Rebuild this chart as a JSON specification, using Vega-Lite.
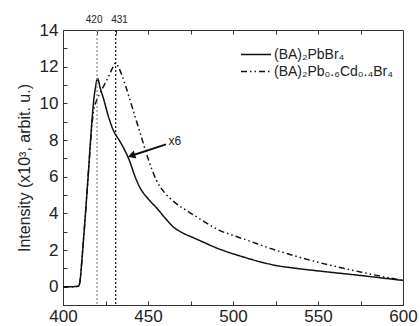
{
  "$schema": "https://vega.github.io/schema/vega-lite/v6.json",
  "width": 340,
  "height": 275,
  "autosize": {"type": "none"},
  "padding": {"left": 63, "top": 30, "right": 17, "bottom": 21},
  "background": "white",
  "config": {
    "view": {"stroke": "#333", "strokeWidth": 1},
    "font": "Liberation Sans",
    "axis": {"domainColor": "#333", "tickColor": "#333", "labelColor": "#222", "titleColor": "#222", "grid": false, "labelFont": "Liberation Sans", "titleFont": "Liberation Sans", "titleFontWeight": "normal"}
  },
  "datasets": {
    "spectra": [
      {"series": "(BA)₂PbBr₄", "wl": 400, "I": 0.0},
      {"series": "(BA)₂PbBr₄", "wl": 405, "I": 0.0},
      {"series": "(BA)₂PbBr₄", "wl": 409, "I": 0.02},
      {"series": "(BA)₂PbBr₄", "wl": 410, "I": 0.3},
      {"series": "(BA)₂PbBr₄", "wl": 411, "I": 1.3},
      {"series": "(BA)₂PbBr₄", "wl": 412, "I": 2.5},
      {"series": "(BA)₂PbBr₄", "wl": 413, "I": 3.7},
      {"series": "(BA)₂PbBr₄", "wl": 414, "I": 5.0},
      {"series": "(BA)₂PbBr₄", "wl": 415, "I": 6.3},
      {"series": "(BA)₂PbBr₄", "wl": 416, "I": 7.7},
      {"series": "(BA)₂PbBr₄", "wl": 417, "I": 9.0},
      {"series": "(BA)₂PbBr₄", "wl": 418, "I": 10.1},
      {"series": "(BA)₂PbBr₄", "wl": 419, "I": 10.8},
      {"series": "(BA)₂PbBr₄", "wl": 420.3, "I": 11.35},
      {"series": "(BA)₂PbBr₄", "wl": 422, "I": 10.8},
      {"series": "(BA)₂PbBr₄", "wl": 424, "I": 10.2},
      {"series": "(BA)₂PbBr₄", "wl": 427, "I": 9.2},
      {"series": "(BA)₂PbBr₄", "wl": 430, "I": 8.45},
      {"series": "(BA)₂PbBr₄", "wl": 433, "I": 8.0},
      {"series": "(BA)₂PbBr₄", "wl": 436, "I": 7.5},
      {"series": "(BA)₂PbBr₄", "wl": 439, "I": 6.9},
      {"series": "(BA)₂PbBr₄", "wl": 442, "I": 6.1},
      {"series": "(BA)₂PbBr₄", "wl": 445, "I": 5.45},
      {"series": "(BA)₂PbBr₄", "wl": 450, "I": 4.8},
      {"series": "(BA)₂PbBr₄", "wl": 455, "I": 4.3},
      {"series": "(BA)₂PbBr₄", "wl": 460, "I": 3.75},
      {"series": "(BA)₂PbBr₄", "wl": 465, "I": 3.25},
      {"series": "(BA)₂PbBr₄", "wl": 470, "I": 2.95},
      {"series": "(BA)₂PbBr₄", "wl": 476, "I": 2.7},
      {"series": "(BA)₂PbBr₄", "wl": 482, "I": 2.45},
      {"series": "(BA)₂PbBr₄", "wl": 488, "I": 2.2},
      {"series": "(BA)₂PbBr₄", "wl": 495, "I": 1.95},
      {"series": "(BA)₂PbBr₄", "wl": 505, "I": 1.65},
      {"series": "(BA)₂PbBr₄", "wl": 515, "I": 1.38},
      {"series": "(BA)₂PbBr₄", "wl": 525, "I": 1.16},
      {"series": "(BA)₂PbBr₄", "wl": 537, "I": 1.0},
      {"series": "(BA)₂PbBr₄", "wl": 550, "I": 0.86},
      {"series": "(BA)₂PbBr₄", "wl": 562, "I": 0.74},
      {"series": "(BA)₂PbBr₄", "wl": 575, "I": 0.61},
      {"series": "(BA)₂PbBr₄", "wl": 588, "I": 0.47},
      {"series": "(BA)₂PbBr₄", "wl": 600, "I": 0.34},
      {"series": "(BA)₂Pb₀.₆Cd₀.₄Br₄", "wl": 400, "I": 0.0},
      {"series": "(BA)₂Pb₀.₆Cd₀.₄Br₄", "wl": 405, "I": 0.0},
      {"series": "(BA)₂Pb₀.₆Cd₀.₄Br₄", "wl": 409, "I": 0.02},
      {"series": "(BA)₂Pb₀.₆Cd₀.₄Br₄", "wl": 410, "I": 0.3},
      {"series": "(BA)₂Pb₀.₆Cd₀.₄Br₄", "wl": 411, "I": 1.3},
      {"series": "(BA)₂Pb₀.₆Cd₀.₄Br₄", "wl": 412, "I": 2.5},
      {"series": "(BA)₂Pb₀.₆Cd₀.₄Br₄", "wl": 413, "I": 3.7},
      {"series": "(BA)₂Pb₀.₆Cd₀.₄Br₄", "wl": 414, "I": 5.0},
      {"series": "(BA)₂Pb₀.₆Cd₀.₄Br₄", "wl": 415, "I": 6.3},
      {"series": "(BA)₂Pb₀.₆Cd₀.₄Br₄", "wl": 416, "I": 7.6},
      {"series": "(BA)₂Pb₀.₆Cd₀.₄Br₄", "wl": 417, "I": 8.8},
      {"series": "(BA)₂Pb₀.₆Cd₀.₄Br₄", "wl": 418, "I": 9.6},
      {"series": "(BA)₂Pb₀.₆Cd₀.₄Br₄", "wl": 420, "I": 10.2},
      {"series": "(BA)₂Pb₀.₆Cd₀.₄Br₄", "wl": 422, "I": 10.6},
      {"series": "(BA)₂Pb₀.₆Cd₀.₄Br₄", "wl": 424, "I": 10.95},
      {"series": "(BA)₂Pb₀.₆Cd₀.₄Br₄", "wl": 427, "I": 11.5},
      {"series": "(BA)₂Pb₀.₆Cd₀.₄Br₄", "wl": 429.5, "I": 12.0},
      {"series": "(BA)₂Pb₀.₆Cd₀.₄Br₄", "wl": 431, "I": 12.2},
      {"series": "(BA)₂Pb₀.₆Cd₀.₄Br₄", "wl": 433, "I": 11.9},
      {"series": "(BA)₂Pb₀.₆Cd₀.₄Br₄", "wl": 437, "I": 10.9},
      {"series": "(BA)₂Pb₀.₆Cd₀.₄Br₄", "wl": 440, "I": 10.0},
      {"series": "(BA)₂Pb₀.₆Cd₀.₄Br₄", "wl": 443, "I": 9.1},
      {"series": "(BA)₂Pb₀.₆Cd₀.₄Br₄", "wl": 446, "I": 8.2},
      {"series": "(BA)₂Pb₀.₆Cd₀.₄Br₄", "wl": 450, "I": 7.0},
      {"series": "(BA)₂Pb₀.₆Cd₀.₄Br₄", "wl": 455, "I": 5.8},
      {"series": "(BA)₂Pb₀.₆Cd₀.₄Br₄", "wl": 460, "I": 5.1},
      {"series": "(BA)₂Pb₀.₆Cd₀.₄Br₄", "wl": 465, "I": 4.65},
      {"series": "(BA)₂Pb₀.₆Cd₀.₄Br₄", "wl": 471, "I": 4.25},
      {"series": "(BA)₂Pb₀.₆Cd₀.₄Br₄", "wl": 477, "I": 3.9},
      {"series": "(BA)₂Pb₀.₆Cd₀.₄Br₄", "wl": 483, "I": 3.55},
      {"series": "(BA)₂Pb₀.₆Cd₀.₄Br₄", "wl": 492, "I": 3.07},
      {"series": "(BA)₂Pb₀.₆Cd₀.₄Br₄", "wl": 500, "I": 2.8},
      {"series": "(BA)₂Pb₀.₆Cd₀.₄Br₄", "wl": 510, "I": 2.48},
      {"series": "(BA)₂Pb₀.₆Cd₀.₄Br₄", "wl": 520, "I": 2.15},
      {"series": "(BA)₂Pb₀.₆Cd₀.₄Br₄", "wl": 530, "I": 1.85},
      {"series": "(BA)₂Pb₀.₆Cd₀.₄Br₄", "wl": 540, "I": 1.58},
      {"series": "(BA)₂Pb₀.₆Cd₀.₄Br₄", "wl": 550, "I": 1.33},
      {"series": "(BA)₂Pb₀.₆Cd₀.₄Br₄", "wl": 562, "I": 1.07},
      {"series": "(BA)₂Pb₀.₆Cd₀.₄Br₄", "wl": 575, "I": 0.8},
      {"series": "(BA)₂Pb₀.₆Cd₀.₄Br₄", "wl": 588, "I": 0.55},
      {"series": "(BA)₂Pb₀.₆Cd₀.₄Br₄", "wl": 600, "I": 0.34}
    ],
    "peaks": [
      {"peak": "420", "wl": 420},
      {"peak": "431", "wl": 431}
    ],
    "arrow": [
      {"x": 460.6, "y": 7.76, "x2": 441.0, "y2": 7.17, "label": "x6", "tx": 462.0, "ty": 7.95}
    ]
  },
  "resolve": {"axis": {"x": "independent", "y": "independent"}},
  "layer": [
    {
      "data": {"name": "spectra"},
      "mark": {"type": "line", "color": "#111", "strokeWidth": 1.5, "interpolate": "monotone"},
      "encoding": {
        "x": {
          "field": "wl", "type": "quantitative",
          "scale": {"domain": [400, 600], "nice": false, "zero": false},
          "axis": {
            "orient": "bottom", "title": null,
            "values": [400, 425, 450, 475, 500, 525, 550, 575, 600],
            "labelExpr": "datum.value % 50 == 0 ? datum.label : ''",
            "labelFontSize": 17, "labelPadding": 7, "tickSize": -4, "labelFlush": false, "labelOverlap": false
          }
        },
        "y": {
          "field": "I", "type": "quantitative",
          "scale": {"domain": [-1, 14], "nice": false, "zero": false},
          "axis": {
            "title": "Intensity (x10³, arbit. u.)",
            "values": [0, 1, 2, 3, 4, 5, 6, 7, 8, 9, 10, 11, 12, 13, 14],
            "labelExpr": "datum.value % 2 == 0 ? datum.label : ''",
            "labelOverlap": false, "labelFlush": false, "labelBound": false,
            "labelFontSize": 17, "labelPadding": 9, "tickSize": -4,
            "titleFontSize": 16, "titlePadding": 7
          }
        },
        "strokeDash": {
          "field": "series", "type": "nominal",
          "scale": {"domain": ["(BA)₂PbBr₄", "(BA)₂Pb₀.₆Cd₀.₄Br₄"], "range": [[1, 0], [6, 3, 1.5, 3, 1.5, 3]]},
          "legend": {
            "title": null, "orient": "none", "legendX": 177, "legendY": 17,
            "symbolType": "stroke", "symbolSize": 900, "clipHeight": 15, "rowPadding": 2,
            "symbolStrokeColor": "#111", "symbolStrokeWidth": 1.3,
            "labelFontSize": 14, "labelColor": "#222", "labelFont": "Liberation Sans", "labelOffset": 2
          }
        }
      }
    },
    {
      "data": {"name": "peaks"},
      "mark": {"type": "rule", "strokeDash": [2, 2], "strokeWidth": 1.2},
      "encoding": {
        "x": {
          "field": "wl", "type": "quantitative",
          "scale": {"domain": [400, 600], "nice": false, "zero": false},
          "axis": {
            "orient": "top", "title": null, "domain": false,
            "values": [420, 431, 450, 475, 500, 525, 550, 575],
            "labelExpr": "datum.value == 420 || datum.value == 431 ? datum.label : ''",
            "labelAlign": {"condition": {"test": "datum.value == 420", "value": "right"}, "value": "left"},
            "labelOffset": {"condition": {"test": "datum.value == 420", "value": 5}, "value": -5},
            "labelFontSize": 10, "labelPadding": 10, "tickSize": -4, "labelBound": false, "labelOverlap": false
          }
        },
        "color": {
          "field": "peak", "type": "nominal",
          "scale": {"domain": ["420", "431"], "range": ["#8a8a8a", "#111111"]},
          "legend": null
        }
      }
    },
    {
      "data": {"name": "arrow"},
      "mark": {"type": "rule", "color": "#111", "strokeWidth": 2},
      "encoding": {
        "x": {"field": "x", "type": "quantitative", "axis": null},
        "y": {"field": "y", "type": "quantitative", "axis": null},
        "x2": {"field": "x2"},
        "y2": {"field": "y2"}
      }
    },
    {
      "data": {"name": "arrow"},
      "mark": {"type": "point", "shape": "triangle", "filled": true, "color": "#111", "size": 70, "angle": 252, "opacity": 1},
      "encoding": {
        "x": {"field": "x2", "type": "quantitative", "axis": null},
        "y": {"field": "y2", "type": "quantitative", "axis": null}
      }
    },
    {
      "data": {"name": "arrow"},
      "mark": {"type": "text", "align": "left", "baseline": "middle", "fontSize": 12, "color": "#222", "font": "Liberation Sans"},
      "encoding": {
        "x": {"field": "tx", "type": "quantitative", "axis": null},
        "y": {"field": "ty", "type": "quantitative", "axis": null},
        "text": {"field": "label"}
      }
    }
  ]
}
